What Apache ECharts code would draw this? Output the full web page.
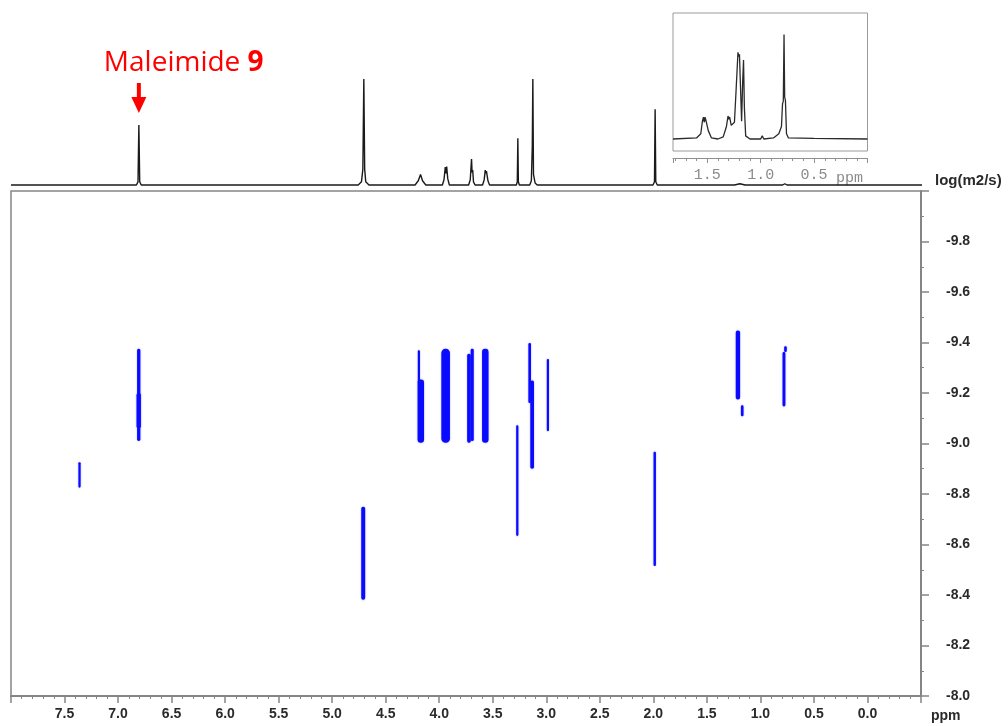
<!DOCTYPE html>
<html>
<head>
<meta charset="utf-8">
<title>DOSY</title>
<script src="https://cdn.jsdelivr.net/npm/echarts@6/dist/echarts.min.js"></script>
<style>
  html, body { margin: 0; padding: 0; background: #ffffff; }
  #chart { width: 1008px; height: 726px; }
</style>
</head>
<body>
<div id="chart"></div>
<script>
// DOSY cross peaks: [chemical shift (ppm), peak width (ppm), logD upper, logD lower]
const crossPeaks = [
  [7.360, 0.020, -8.926, -8.825],
  [6.807, 0.030, -9.375, -9.010],
  [6.807, 0.040, -9.200, -9.060],
  [4.710, 0.036, -8.750, -8.381],
  [4.190, 0.020, -9.369, -9.240],
  [4.172, 0.060, -9.253, -9.003],
  [3.940, 0.080, -9.375, -9.003],
  [3.722, 0.034, -9.355, -9.003],
  [3.692, 0.028, -9.375, -9.010],
  [3.570, 0.060, -9.375, -9.003],
  [3.271, 0.020, -9.072, -8.634],
  [3.155, 0.024, -9.398, -9.160],
  [3.132, 0.034, -9.250, -8.900],
  [2.985, 0.020, -9.335, -9.049],
  [1.987, 0.022, -8.967, -8.515],
  [1.210, 0.040, -9.448, -9.174],
  [1.170, 0.024, -9.151, -9.108],
  [0.780, 0.026, -9.362, -9.147],
  [0.766, 0.024, -9.385, -9.362]
];

// 1H projection: [ppm, relative intensity]
const spectrum1D = [
  [8.00, 0], [6.83, 0], [6.815, 0.03], [6.807, 0.566], [6.799, 0.03], [6.785, 0],
  [4.76, 0], [4.73, 0.03], [4.717, 0.15], [4.708, 1.0], [4.70, 0.15], [4.69, 0.03], [4.66, 0],
  [4.23, 0], [4.20, 0.04], [4.179, 0.10], [4.16, 0.04], [4.13, 0],
  [3.975, 0], [3.96, 0.05], [3.948, 0.17], [3.942, 0.11], [3.935, 0.173], [3.925, 0.06], [3.91, 0],
  [3.73, 0], [3.715, 0.05], [3.703, 0.245], [3.698, 0.12], [3.692, 0.14], [3.685, 0.03], [3.67, 0],
  [3.60, 0], [3.585, 0.05], [3.575, 0.14], [3.570, 0.11], [3.564, 0.13], [3.55, 0.04], [3.535, 0],
  [3.285, 0], [3.276, 0.03], [3.271, 0.44], [3.266, 0.03], [3.257, 0],
  [3.16, 0], [3.145, 0.04], [3.136, 0.37], [3.131, 1.0], [3.125, 0.10], [3.11, 0.02], [3.09, 0],
  [3.00, 0], [2.99, 0.012], [2.98, 0],
  [2.01, 0], [1.996, 0.03], [1.990, 0.714], [1.984, 0.03], [1.97, 0],
  [1.25, 0], [1.20, 0.012], [1.15, 0], [0.80, 0], [0.78, 0.012], [0.76, 0],
  [-0.50, 0]
];

// Expanded region 1.8 - 0.0 ppm: [ppm, relative intensity]
const insetSpectrum = [
  [1.82, 0], [1.60, 0.01], [1.56, 0.05], [1.545, 0.17], [1.535, 0.21], [1.527, 0.16], [1.52, 0.21],
  [1.51, 0.17], [1.49, 0.08], [1.46, 0.01], [1.40, 0], [1.35, 0.02], [1.32, 0.12], [1.305, 0.22],
  [1.298, 0.19], [1.29, 0.21], [1.275, 0.13], [1.26, 0.12], [1.245, 0.16], [1.228, 0.5],
  [1.212, 0.83], [1.205, 0.79], [1.198, 0.81], [1.19, 0.55], [1.178, 0.17], [1.168, 0.55],
  [1.160, 0.755], [1.152, 0.3], [1.14, 0.03], [1.10, 0], [1.00, 0], [0.985, 0.03], [0.97, 0],
  [0.88, 0.01], [0.83, 0.05], [0.805, 0.12], [0.795, 0.34], [0.788, 0.36], [0.781, 1.0],
  [0.775, 0.4], [0.768, 0.37], [0.758, 0.05], [0.74, 0.01], [0.50, 0.005], [0.00, 0]
];

const axisGray = '#858585';
const labelColor = '#2a2a2a';

const chart = echarts.init(document.getElementById('chart'), null, { renderer: 'canvas' });

chart.setOption({
  animation: false,
  backgroundColor: '#ffffff',
  grid: [
    { left: 11, right: 87, top: 191, bottom: 30, show: true, borderColor: axisGray, borderWidth: 1.5 },
    { left: 11, right: 86, top: 79, height: 106 },
    { left: 673, width: 194.5, top: 13, height: 138, show: true, borderColor: '#9a9a9a', borderWidth: 1 }
  ],
  xAxis: [
    {
      gridIndex: 0, type: 'value', min: -0.5, max: 8, interval: 0.5, inverse: true,
      axisLine: { onZero: false, lineStyle: { color: axisGray, width: 2 } },
      axisTick: { length: 7, lineStyle: { color: axisGray, width: 1.5 } },
      minorTick: { show: true, splitNumber: 5, length: 3, lineStyle: { color: axisGray, width: 1 } },
      splitLine: { show: false },
      axisLabel: {
        margin: 11, color: labelColor, fontFamily: 'Liberation Sans', fontWeight: 'bold', fontSize: 14,
        formatter: v => (v < 0 || v > 7.9) ? '' : v.toFixed(1)
      }
    },
    { gridIndex: 1, type: 'value', min: -0.5, max: 8, inverse: true, show: false },
    {
      gridIndex: 2, type: 'value', min: 0, max: 1.82, interval: 0.5, inverse: true, offset: 7,
      axisLine: { onZero: false, lineStyle: { color: '#8f8f8f', width: 1 } },
      axisTick: { length: 5, lineStyle: { color: '#8f8f8f' } },
      minorTick: { show: true, splitNumber: 5, length: 3, lineStyle: { color: '#8f8f8f' } },
      splitLine: { show: false },
      axisLabel: {
        margin: 10, color: '#8a8a8a', fontFamily: 'Liberation Mono', fontSize: 15,
        formatter: v => (v <= 0 || v > 1.6) ? '' : v.toFixed(1)
      }
    }
  ],
  yAxis: [
    {
      gridIndex: 0, type: 'value', position: 'right', min: -10, max: -8, interval: 0.2, inverse: true,
      axisLine: { show: true, onZero: false, lineStyle: { color: axisGray, width: 2 } },
      axisTick: { show: true, length: 8, lineStyle: { color: axisGray, width: 1.5 } },
      minorTick: { show: true, splitNumber: 2, length: 3, lineStyle: { color: axisGray, width: 1 } },
      splitLine: { show: false },
      axisLabel: {
        margin: 25, color: labelColor, fontFamily: 'Liberation Sans', fontWeight: 'bold', fontSize: 14,
        align: 'left',
        formatter: v => v < -9.95 ? '' : v.toFixed(1)
      }
    },
    { gridIndex: 1, type: 'value', min: 0, max: 1, show: false },
    { gridIndex: 2, type: 'value', min: -0.115, max: 1.206, show: false }
  ],
  series: [
    {
      type: 'custom', xAxisIndex: 0, yAxisIndex: 0, data: crossPeaks,
      renderItem: (params, api) => {
        const a = api.coord([api.value(0) + api.value(1) / 2, api.value(2)]);
        const b = api.coord([api.value(0) - api.value(1) / 2, api.value(3)]);
        const x = Math.min(a[0], b[0]), y = Math.min(a[1], b[1]);
        const w = Math.abs(b[0] - a[0]), h = Math.abs(b[1] - a[1]);
        return {
          type: 'rect',
          shape: { x: x, y: y, width: w, height: h, r: w / 2 },
          style: { fill: '#0a0aff', shadowBlur: 1.5, shadowColor: 'rgba(40,40,255,0.6)' }
        };
      }
    },
    {
      type: 'line', xAxisIndex: 1, yAxisIndex: 1, data: spectrum1D, clip: false,
      showSymbol: false, symbol: 'none',
      lineStyle: { color: '#1a1a1a', width: 1.4 }
    },
    {
      type: 'line', xAxisIndex: 2, yAxisIndex: 2, data: insetSpectrum, clip: false,
      showSymbol: false, symbol: 'none',
      lineStyle: { color: '#2a2a2a', width: 1.3 }
    }
  ]
});

// Annotation arrow above the maleimide singlet
const px = chart.convertToPixel({ xAxisIndex: 1 }, 6.807);
const top1D = chart.convertToPixel({ yAxisIndex: 1 }, 0.566);

chart.setOption({
  graphic: [
    {
      type: 'text', left: 935, top: 173,
      style: { text: 'log(m2/s)', fill: labelColor, font: 'bold 15px "Liberation Sans"' }
    },
    {
      type: 'text', left: 931, top: 709,
      style: { text: 'ppm', fill: labelColor, font: 'bold 14px "Liberation Sans"' }
    },
    {
      type: 'text', left: 836, top: 171,
      style: { text: 'ppm', fill: '#8a8a8a', font: '15px "Liberation Mono"' }
    },
    {
      type: 'polygon',
      shape: {
        points: [
          [px - 2, top1D - 42], [px + 2, top1D - 42], [px + 2, top1D - 28], [px + 7.5, top1D - 28],
          [px, top1D - 12], [px - 7.5, top1D - 28], [px - 2, top1D - 28]
        ]
      },
      style: { fill: '#ff0000' }
    },
    {
      type: 'text', x: px - 35, y: top1D - 62,
      style: {
        text: '{n|Maleimide }{b|9}',
        verticalAlign: 'middle',
        rich: {
          n: { fill: '#ff0000', font: '28px "Open Sans"' },
          b: { fill: '#ff0000', font: 'bold 28px "Open Sans"' }
        }
      }
    }
  ]
});
</script>
</body>
</html>
